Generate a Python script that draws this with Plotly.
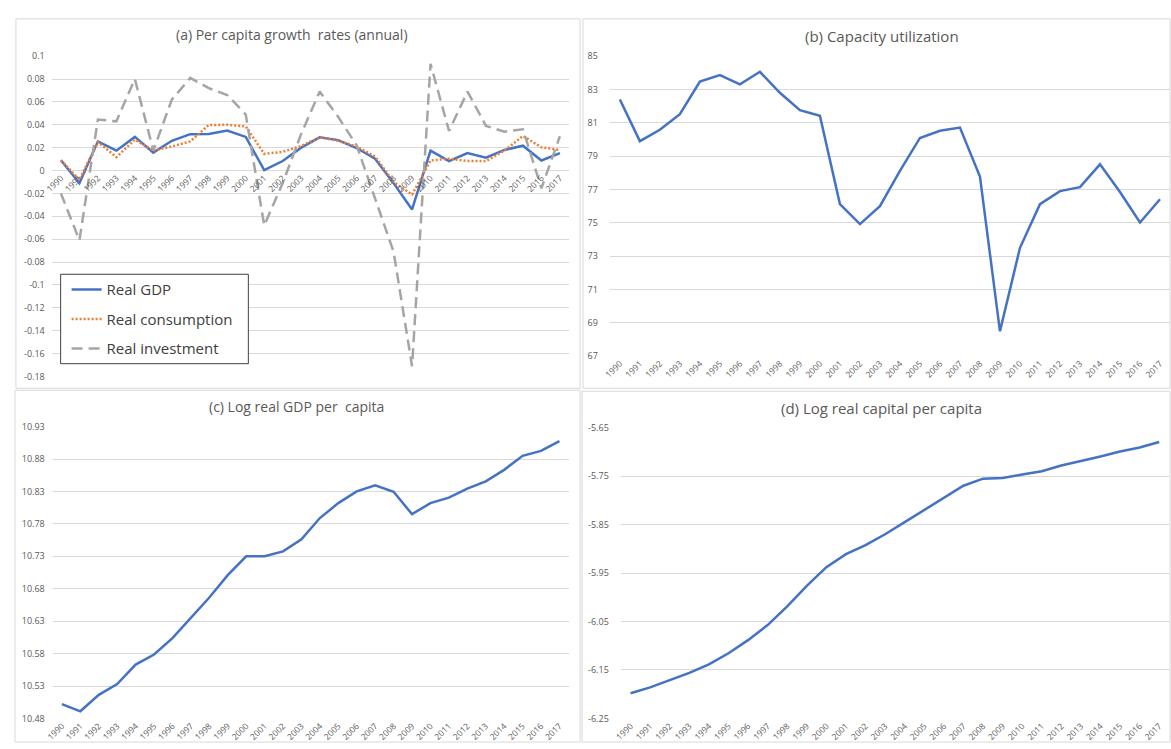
import plotly.graph_objects as go

# ---------------- data ----------------
years = [str(y) for y in range(1990, 2018)]

gdp_growth = [0.009, -0.011, 0.0255, 0.0174, 0.0294, 0.0157, 0.026, 0.0318, 0.032, 0.035,
              0.0294, 0.0003, 0.0083, 0.020, 0.029, 0.0266, 0.0197, 0.0103, -0.011, -0.034,
              0.0174, 0.0083, 0.0152, 0.0112, 0.018, 0.0217, 0.0088, 0.0152]
cons_growth = [0.009, -0.008, 0.025, 0.0117, 0.027, 0.0174, 0.021, 0.0255, 0.0398, 0.040,
               0.0386, 0.0146, 0.0163, 0.0215, 0.029, 0.026, 0.021, 0.0123, -0.010, -0.021,
               0.0088, 0.0103, 0.0083, 0.0083, 0.0174, 0.0303, 0.0203, 0.018]
inv_growth = [-0.020, -0.061, 0.0446, 0.043, 0.080, 0.0175, 0.062, 0.081, 0.072, 0.066,
              0.049, -0.048, -0.011, 0.032, 0.069, 0.047, 0.022, -0.0255, -0.071, -0.171,
              0.0933, 0.0346, 0.069, 0.039, 0.034, 0.036, -0.0155, 0.030]

capacity_util = [82.4, 79.9, 80.58, 81.52, 83.47, 83.86, 83.31, 84.06, 82.8, 81.76,
                 81.42, 76.12, 74.92, 76.0, 78.12, 80.09, 80.52, 80.71, 77.77, 68.49,
                 73.5, 76.12, 76.9, 77.14, 78.51, 76.85, 75.02, 76.41]

log_gdp_pc = [10.502, 10.491, 10.5164, 10.533, 10.563, 10.5785, 10.6038, 10.635, 10.6664, 10.701,
              10.730, 10.730, 10.7376, 10.7562, 10.789, 10.812, 10.830, 10.8396, 10.8295, 10.795,
              10.812, 10.8204, 10.8345, 10.8456, 10.8633, 10.885, 10.8926, 10.9077]

log_capital_pc = [-6.198, -6.186, -6.171, -6.156, -6.1386, -6.1156, -6.0885, -6.0575, -6.019, -5.9764,
                  -5.938, -5.911, -5.8926, -5.870, -5.845, -5.8196, -5.794, -5.770, -5.7554, -5.754,
                  -5.747, -5.740, -5.7284, -5.7196, -5.7095, -5.6993, -5.691, -5.6797]

ya_vals = [0.1, 0.08, 0.06, 0.04, 0.02, 0, -0.02, -0.04, -0.06, -0.08, -0.1, -0.12, -0.14, -0.16, -0.18]
ya_text = ["0.1", "0.08", "0.06", "0.04", "0.02", "0", "-0.02", "-0.04", "-0.06", "-0.08",
           "-0.1", "-0.12", "-0.14", "-0.16", "-0.18"]
yb_vals = [67, 69, 71, 73, 75, 77, 79, 81, 83, 85]
yc_vals = [10.48, 10.53, 10.58, 10.63, 10.68, 10.73, 10.78, 10.83, 10.88, 10.93]
yc_text = ["10.48", "10.53", "10.58", "10.63", "10.68", "10.73", "10.78", "10.83", "10.88", "10.93"]
yd_vals = [-6.25, -6.15, -6.05, -5.95, -5.85, -5.75, -5.65]
yd_text = ["-6.25", "-6.15", "-6.05", "-5.95", "-5.85", "-5.75", "-5.65"]

titles = ["(a) Per capita growth  rates (annual)", "(b) Capacity utilization",
          "(c) Log real GDP per  capita", "(d) Log real capital per capita"]
series_names = ["Real GDP", "Real consumption", "Real investment"]

# ---------------- layout helpers ----------------
W, H = 1171, 749
FONT = "Open Sans"
TXT = "#595959"
GRID = "#D9D9D9"
BLUE = "#4472C4"
ORANGE = "#ED7D31"
GRAY = "#A5A5A5"


def fx(px):
    return px / W


def fy(py):
    return 1 - py / H


fig = go.Figure()

# panel (a)
fig.add_trace(go.Scatter(x=years, y=gdp_growth, name=series_names[0], mode="lines",
                         line=dict(color=BLUE, width=2.5), xaxis="x", yaxis="y",
                         legendgroup="g1"))
fig.add_trace(go.Scatter(x=years, y=cons_growth, name=series_names[1], mode="lines",
                         line=dict(color=ORANGE, width=2.5, dash="2px,2px"), xaxis="x", yaxis="y",
                         legendgroup="g2"))
fig.add_trace(go.Scatter(x=years, y=inv_growth, name=series_names[2], mode="lines",
                         line=dict(color=GRAY, width=2.5, dash="11px,6px"), xaxis="x", yaxis="y",
                         legendgroup="g3"))
# panel (b)
fig.add_trace(go.Scatter(x=years, y=capacity_util, mode="lines", showlegend=False,
                         line=dict(color=BLUE, width=2.5), xaxis="x2", yaxis="y2"))
# panel (c)
fig.add_trace(go.Scatter(x=years, y=log_gdp_pc, mode="lines", showlegend=False,
                         line=dict(color=BLUE, width=2.5), xaxis="x3", yaxis="y3"))
# panel (d)
fig.add_trace(go.Scatter(x=years, y=log_capital_pc, mode="lines", showlegend=False,
                         line=dict(color=BLUE, width=2.5), xaxis="x4", yaxis="y4"))

xfont = dict(family=FONT, size=8.5, color=TXT)
yfont = dict(family=FONT, size=9, color=TXT)


def xaxis(dom, anchor, position=None):
    d = dict(domain=[fx(dom[0]), fx(dom[1])], type="category", tickangle=-45,
             showgrid=False, zeroline=False, showline=False, ticks="",
             tickfont=xfont, range=[-0.5, 27.5], fixedrange=True)
    if position is None:
        d["anchor"] = anchor
    else:
        d["anchor"] = "free"
        d["position"] = position
    return d


def yaxis(dom, anchor, rng, vals, text, standoff):
    return dict(domain=[fy(dom[1]), fy(dom[0])], anchor=anchor, range=rng,
                tickvals=vals, ticktext=text, showgrid=True, gridcolor=GRID, gridwidth=1,
                zeroline=False, showline=False, ticks="", tickfont=yfont,
                ticklabelstandoff=standoff, fixedrange=True)


# pixel boxes of the plot areas: (left, right), (top, bottom)
a_x, a_y = (44, 565), (50, 376)
b_x, b_y = (606, 1170), (50, 355.3)
c_x, c_y = (45, 564.5), (427, 724)
d_x, d_y = (617, 1169), (428, 724)

a_rng = [-0.18, 0.1]
zero_pos = fy(a_y[1]) + (0 - a_rng[0]) / (a_rng[1] - a_rng[0]) * (fy(a_y[0]) - fy(a_y[1]))

fig.update_layout(
    xaxis=xaxis(a_x, "y", position=zero_pos),
    yaxis=yaxis(a_y, "x", a_rng, ya_vals, ya_text, 6),
    xaxis2=xaxis(b_x, "y2"),
    yaxis2=yaxis(b_y, "x2", [67, 85], yb_vals, [str(v) for v in yb_vals], 11),
    xaxis3=xaxis(c_x, "y3"),
    yaxis3=yaxis(c_y, "x3", [10.48, 10.93], yc_vals, yc_text, 7),
    xaxis4=xaxis(d_x, "y4"),
    yaxis4=yaxis(d_y, "x4", [-6.25, -5.65], yd_vals, yd_text, 11),
)

# panel frames
frames = [(8, 576, 12, 388), (579, 1170, 12, 388), (7, 576, 390, 748), (578, 1170, 391, 748)]
shapes = []
for (l, r, t, b) in frames:
    shapes.append(dict(type="rect", xref="paper", yref="paper", x0=fx(l), x1=fx(r),
                       y0=fy(b), y1=fy(t), line=dict(color=GRID, width=1), layer="below"))
# legend box
shapes.append(dict(type="rect", xref="paper", yref="paper", x0=fx(53), x1=fx(242),
                   y0=fy(363), y1=fy(272), line=dict(color="#404040", width=1),
                   fillcolor="white", layer="above"))

title_pos = [(286, 28), (880, 30), (290, 407), (880, 408)]
title_size = [14, 15, 14, 15]
annotations = []
for t, (px, py), s in zip(titles, title_pos, title_size):
    annotations.append(dict(text=t, x=fx(px), y=fy(py), xref="paper", yref="paper",
                            xanchor="center", yanchor="middle", showarrow=False,
                            font=dict(family=FONT, size=s, color=TXT)))

fig.update_layout(
    width=W, height=H, autosize=False,
    margin=dict(l=0, r=0, t=0, b=0),
    paper_bgcolor="white", plot_bgcolor="white",
    shapes=shapes, annotations=annotations,
    showlegend=True,
    legend=dict(x=fx(59), y=fy(271), xanchor="left", yanchor="top",
                bgcolor="rgba(0,0,0,0)", borderwidth=0,
                font=dict(family=FONT, size=15, color="#404040"),
                traceorder="grouped", tracegroupgap=7, itemwidth=30),
    font=dict(family=FONT, color=TXT),
)

fig.write_html("out.html")
